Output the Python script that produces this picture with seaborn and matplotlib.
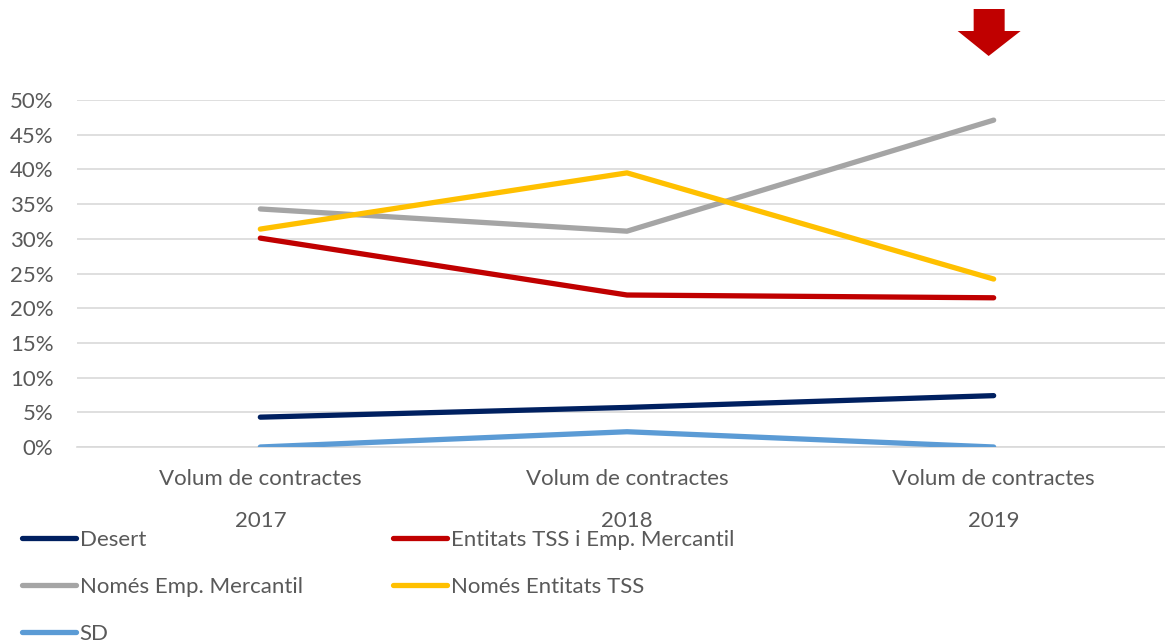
import matplotlib
matplotlib.use("Agg")
import matplotlib.pyplot as plt
from matplotlib.patches import Polygon
from matplotlib.lines import Line2D
import matplotlib.transforms as mtransforms
import seaborn as sns
import pandas as pd

# Category axis: contract volume by year
years = ["2017", "2018", "2019"]
group_label = "Volum de contractes"

series_names = [
    "Desert",
    "Entitats TSS i Emp. Mercantil",
    "Només Emp. Mercantil",
    "Només Entitats TSS",
    "SD",
]
desert = [0.043, 0.057, 0.074]
tss_i_emp = [0.301, 0.219, 0.215]
nomes_emp = [0.343, 0.311, 0.471]
nomes_tss = [0.314, 0.395, 0.242]
sd = [0.0, 0.022, 0.0]

colors = ["#002060", "#C00000", "#A5A5A5", "#FFC000", "#5B9BD5"]
y_ticks = [0, 0.05, 0.10, 0.15, 0.20, 0.25, 0.30, 0.35, 0.40, 0.45, 0.50]

values = [desert, tss_i_emp, nomes_emp, nomes_tss, sd]
rows = []
for name, vals in zip(series_names, values):
    for yr, v in zip(years, vals):
        rows.append({"year": yr, "value": v, "serie": name})
df = pd.DataFrame(rows)

sns.set_theme(style="white")
plt.rcParams["font.family"] = ["Lato", "DejaVu Sans"]
text_color = "#595959"
grid_color = "#D9D9D9"
fs = 16

W, H, DPI = 1165, 644, 100
fig = plt.figure(figsize=(W / DPI, H / DPI), dpi=DPI)
ax = fig.add_axes([77 / W, 1 - 447 / H, (W - 77) / W, 347 / H])

sns.lineplot(
    data=df, x="year", y="value", hue="serie", hue_order=series_names,
    palette=colors, linewidth=3.8, sort=False, legend=False, ax=ax,
    solid_capstyle="round", zorder=3,
)

ax.set_ylim(0, 0.5)
ax.set_xlim(-0.5, 2.5 - 12 / 367)
ax.set_yticks(y_ticks)
ax.set_yticklabels([f"{round(t * 100)}%" for t in y_ticks])
ax.yaxis.grid(True, color=grid_color, linewidth=1.2)
ax.set_axisbelow(True)
for s in ["top", "right", "left"]:
    ax.spines[s].set_visible(False)
ax.spines["bottom"].set_color(grid_color)
ax.spines["bottom"].set_linewidth(1.2)
ax.tick_params(axis="y", length=0, pad=17, labelsize=fs, labelcolor=text_color)

# Two-level category labels with separators between groups
ax.set_xticks(range(len(years)))
ax.set_xticklabels([f"{group_label}\n{y}" for y in years])
ax.tick_params(axis="x", which="major", length=0, pad=16, labelsize=fs,
               labelcolor=text_color)
for lab in ax.get_xticklabels():
    lab.set_linespacing(2.33)
ax.set_xticks([-0.5, 0.5, 1.5], minor=True)
ax.tick_params(axis="x", which="minor", length=68, width=1.2, color=grid_color,
               direction="out")
ax.set_xlabel("")
ax.set_ylabel("")

# Legend laid out row by row in two columns
handles = [Line2D([0], [0], color=c, linewidth=3.8, solid_capstyle="round")
           for c in colors]
order = [0, 2, 4, 1, 3]
leg = fig.legend(
    [handles[i] for i in order], [series_names[i] for i in order],
    ncol=2, loc="upper left", bbox_to_anchor=(22 / W, 1 - 530 / H),
    frameon=False, fontsize=fs, handlelength=2.45, handletextpad=0.15,
    labelspacing=1.22, columnspacing=4.05, borderpad=0, borderaxespad=0,
)
for t in leg.get_texts():
    t.set_color(text_color)

# Highlight arrow above the last year
cx = ax.transData.transform((2, 0))[0] - 5
def px(x, y):
    return (cx + x, H - y)
arrow = Polygon(
    [px(-15, 9), px(16, 9), px(16, 31), px(32, 31), px(0, 56),
     px(-31, 31), px(-15, 31)],
    closed=True, facecolor="#C00000", edgecolor="none",
    transform=mtransforms.IdentityTransform(),
)
fig.patches.append(arrow)

fig.savefig("out.png", dpi=DPI)
